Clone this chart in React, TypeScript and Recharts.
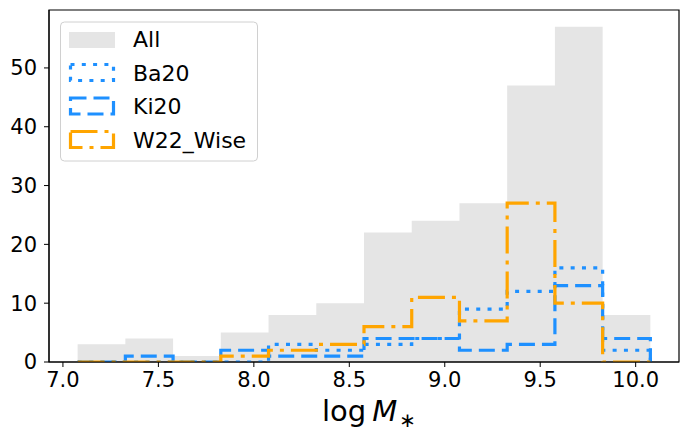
import React from 'react';
import { ComposedChart, Area, Line, XAxis, YAxis, ReferenceArea } from 'recharts';

// histogram bins (log M*) and counts per bin
const BIN_EDGES = [7.077, 7.327, 7.577, 7.827, 8.077, 8.327, 8.577, 8.827, 9.077, 9.327, 9.577, 9.827, 10.077];
const ALL_COUNTS = [3, 4, 1, 5, 8, 10, 22, 24, 27, 47, 57, 8];
const BA20_COUNTS = [0, 0, 0, 0, 3, 2, 3, 4, 9, 12, 16, 2];
const KI20_COUNTS = [0, 1, 0, 2, 1, 1, 4, 4, 2, 3, 13, 4];
const W22_COUNTS = [0, 0, 0, 1, 2, 3, 6, 11, 7, 27, 10, 0];

const X_TICKS = [7.0, 7.5, 8.0, 8.5, 9.0, 9.5, 10.0];
const Y_TICKS = [0, 10, 20, 30, 40, 50];

const X_DOMAIN = [6.927, 10.227];
const Y_DOMAIN = [0, 59.85];

const GRAY = '#e5e5e5';
const BLUE = '#1e90ff';
const ORANGE = '#ffa500';
const FONT = '"DejaVu Sans", sans-serif';

const DOTTED = '4 7.3';
const DASHED = '16 7';
const DASHDOT = '27 7 4 7';

// filled histogram as a step area
const allData = [
    ...ALL_COUNTS.map((c, i) => ({ x: BIN_EDGES[i], all: c })),
    { x: BIN_EDGES[BIN_EDGES.length - 1], all: ALL_COUNTS[ALL_COUNTS.length - 1] },
];

// outline like histtype='step': up from 0, across the bins, back down to 0
const stepData = (counts: number[]) => [
    { x: BIN_EDGES[0], y: 0 },
    ...counts.map((c, i) => ({ x: BIN_EDGES[i], y: c })),
    { x: BIN_EDGES[BIN_EDGES.length - 1], y: counts[counts.length - 1] },
    { x: BIN_EDGES[BIN_EDGES.length - 1], y: 0 },
];

const XLabel = (props: any) => {
    const vb = props.viewBox || { x: 49, width: 630 };
    return (
        <text x={vb.x + vb.width / 2 + 5} y={421} textAnchor="middle" fontFamily={FONT} fontSize={29} fill="#000">
            <tspan>log</tspan>
            <tspan dx={6} fontStyle="italic">M</tspan>
            <tspan dx={2} dy={6} fontSize={20}>∗</tspan>
        </text>
    );
};

const legendRows = [
    { name: 'All', dash: null, color: GRAY, baseline: 47 },
    { name: 'Ba20', dash: DOTTED, color: BLUE, baseline: 80.5 },
    { name: 'Ki20', dash: DASHED, color: BLUE, baseline: 114 },
    { name: 'W22_Wise', dash: DASHDOT, color: ORANGE, baseline: 147.5 },
];

const LegendBox = () => (
    <svg width={690} height={440} style={{ position: 'absolute', left: 0, top: 0, pointerEvents: 'none' }}>
        <rect x={60.5} y={22} width={197} height={139} rx={4} fill="rgba(255,255,255,0.8)" stroke="#d0d0d0" strokeWidth={1} />
        {legendRows.map((r) => (
            <g key={r.name}>
                {r.dash === null ? (
                    <rect x={69} y={r.baseline - 15} width={46} height={16} fill={r.color} />
                ) : (
                    <rect x={70.5} y={r.baseline - 16} width={43} height={16} fill="none" stroke={r.color}
                        strokeWidth={3.2} strokeDasharray={r.dash} />
                )}
                <text x={133} y={r.baseline} fontFamily={FONT} fontSize={22} fill="#000">{r.name}</text>
            </g>
        ))}
    </svg>
);

const App = () => {
    return (
        <div style={{ position: 'absolute', left: 0, top: 0, width: 690, height: 440, background: '#fff' }}>
            <ComposedChart width={690} height={440} data={allData} margin={{ top: 10, right: 11, bottom: 0, left: 0 }}>
                <XAxis
                    type="number"
                    dataKey="x"
                    domain={X_DOMAIN}
                    ticks={X_TICKS}
                    allowDataOverflow
                    tickFormatter={(v: number) => v.toFixed(1)}
                    height={78}
                    tickSize={5}
                    tickMargin={5}
                    stroke="#000"
                    tick={{ fill: '#000', fontSize: 21, fontFamily: FONT }}
                    label={{ content: XLabel }}
                />
                <YAxis
                    type="number"
                    domain={Y_DOMAIN}
                    ticks={Y_TICKS}
                    allowDataOverflow
                    width={49}
                    tickSize={5}
                    tickMargin={7}
                    stroke="#000"
                    tick={{ fill: '#000', fontSize: 21, fontFamily: FONT }}
                />
                <Area
                    type="stepAfter"
                    dataKey="all"
                    stroke="none"
                    fill={GRAY}
                    fillOpacity={1}
                    baseValue={0}
                    dot={false}
                    activeDot={false}
                    isAnimationActive={false}
                />
                <Line data={stepData(BA20_COUNTS)} type="stepAfter" dataKey="y" stroke={BLUE} strokeWidth={3.2}
                    strokeDasharray={DOTTED} dot={false} activeDot={false} isAnimationActive={false} />
                <Line data={stepData(KI20_COUNTS)} type="stepAfter" dataKey="y" stroke={BLUE} strokeWidth={3.2}
                    strokeDasharray={DASHED} dot={false} activeDot={false} isAnimationActive={false} />
                <Line data={stepData(W22_COUNTS)} type="stepAfter" dataKey="y" stroke={ORANGE} strokeWidth={3.2}
                    strokeDasharray={DASHDOT} dot={false} activeDot={false} isAnimationActive={false} />
                <ReferenceArea x1={X_DOMAIN[0]} x2={X_DOMAIN[1]} y1={Y_DOMAIN[0]} y2={Y_DOMAIN[1]}
                    fill="none" fillOpacity={0} stroke="#000" strokeWidth={1.2} ifOverflow="visible" />
            </ComposedChart>
            <LegendBox />
        </div>
    );
};

export default App;
